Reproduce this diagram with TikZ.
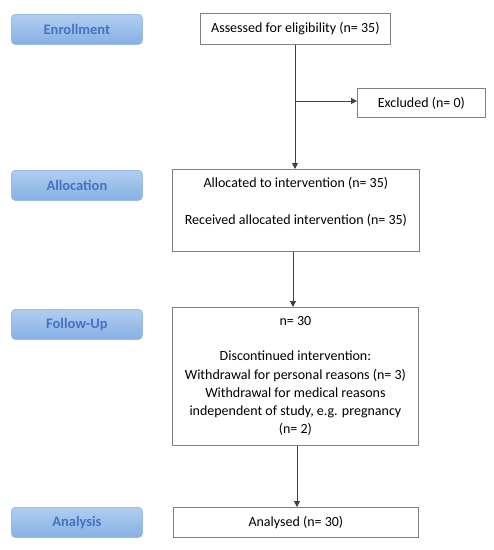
\documentclass[tikz,border=0pt]{standalone}
\usepackage{fontspec}
\setmainfont{Carlito}
\usetikzlibrary{arrows.meta,calc}
\definecolor{stagetxt}{HTML}{4472C4}
\definecolor{stagetop}{HTML}{B0CDF0}
\definecolor{stagebot}{HTML}{86B0E4}
\definecolor{stageedge}{HTML}{9ABCE6}
\definecolor{boxedge}{HTML}{808080}
\definecolor{linecol}{HTML}{404040}
\tikzset{
  stage/.style={draw=stageedge, line width=0.8pt, rounded corners=4pt, top color=stagetop, bottom color=stagebot,
    minimum width=131pt, minimum height=30pt, anchor=north west, inner sep=0pt,
    font=\fontsize{14.5}{16}\selectfont\bfseries, text=stagetxt},
  flowbox/.style={draw=boxedge, line width=0.8pt, fill=white, anchor=north west, inner sep=0pt},
  txt/.style={font=\fontsize{14}{16}\selectfont, text=black, inner sep=0pt},
  conn/.style={draw=linecol, line width=0.8pt, -{Triangle[length=6pt,width=6pt]}},
  plain/.style={draw=linecol, line width=0.8pt}
}
\begin{document}
\begin{tikzpicture}[x=1pt,y=-1pt]
\useasboundingbox[fill=white] (0,0) rectangle (494,550);
% stage labels
\node[stage] (s1) at (11,14) {Enrollment};
\node[stage] (s2) at (11,170) {Allocation};
\node[stage] (s3) at (11,309) {Follow-Up};
\node[stage] (s4) at (11,507) {Analysis};
% flow boxes
\node[flowbox, minimum width=190pt, minimum height=31pt, txt] (assess) at (200,13) {Assessed for eligibility (n= 35)};
\node[flowbox, minimum width=128pt, minimum height=29pt, txt] (excl) at (357,88) {Excluded (n= 0)};
\node[flowbox, minimum width=247pt, minimum height=82pt] (alloc) at (172,169) {};
\node[txt] (a1) at ($(alloc.north)+(0,14)$) {Allocated to intervention (n= 35)};
\node[txt] (a2) at ($(alloc.north)+(0,51)$) {Received allocated intervention (n= 35)};
\node[flowbox, minimum width=246pt, minimum height=138pt] (follow) at (172,307) {};
\node[txt] (f1) at ($(follow.north)+(0,14)$) {n= 30};
\node[txt, align=center, font=\fontsize{14}{18.3}\selectfont] (f2) at ($(follow.north)+(0,86.5)$) {Discontinued intervention:\\Withdrawal for personal reasons (n= 3)\\Withdrawal for medical reasons\\independent of study, e.g. pregnancy\\(n= 2)};
\node[flowbox, minimum width=245pt, minimum height=30pt, txt] (anal) at (173,507) {Analysed (n= 30)};
% connectors
\coordinate (b) at (295,101);
\draw[plain] (assess.south -| b) -- (b);
\draw[conn] (b) -- (b |- alloc.north);
\draw[conn] (b) -- (b -| excl.west);
\coordinate (c1) at (293,0);
\draw[conn] (c1 |- alloc.south) -- (c1 |- follow.north);
\coordinate (c2) at (297,0);
\draw[conn] (c2 |- follow.south) -- (c2 |- anal.north);
\end{tikzpicture}
\end{document}
